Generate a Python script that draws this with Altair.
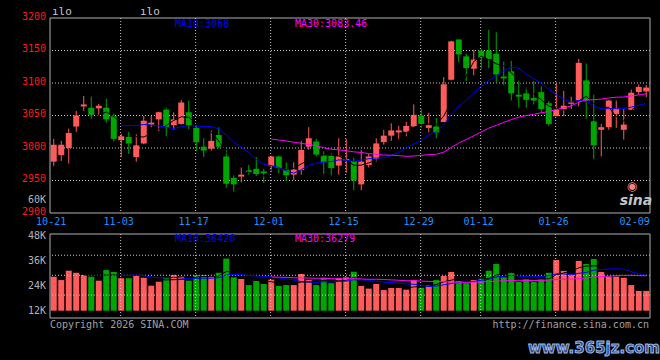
import altair as alt
import pandas as pd

# ---------------- data ----------------
DATES = ["10-21", "10-22", "10-23", "10-24", "10-27", "10-28", "10-29", "10-30", "10-31",
         "11-03", "11-04", "11-05", "11-06", "11-07", "11-10", "11-11", "11-12", "11-13", "11-14",
         "11-17", "11-18", "11-19", "11-20", "11-21", "11-24", "11-25", "11-26", "11-27", "11-28",
         "12-01", "12-02", "12-03", "12-04", "12-05", "12-08", "12-09", "12-10", "12-11", "12-12",
         "12-15", "12-16", "12-17", "12-18", "12-19", "12-22", "12-23", "12-24", "12-25", "12-26",
         "12-29", "12-30", "12-31",
         "01-05", "01-06", "01-07", "01-08", "01-09",
         "01-12", "01-13", "01-14", "01-15", "01-16",
         "01-19", "01-20", "01-21", "01-22", "01-23",
         "01-26", "01-27", "01-28", "01-29", "01-30",
         "02-02", "02-03", "02-04", "02-05", "02-06",
         "02-09", "02-10", "02-11"]
OPEN = [2979, 2989, 3000, 3033, 3064, 3062, 3061, 3062, 3049, 3012,
        3017, 2986, 3007, 3036, 3044, 3059, 3035, 3037, 3055, 3031,
        3002, 2999, 3020, 2987, 2954, 2956, 2966, 2968, 2964, 2972,
        2987, 2968, 2959, 2966, 3002, 3010, 2989, 2988, 2973, 2981,
        2980, 2944, 2974, 2983, 3009, 3019, 3024, 3025, 3033, 3050,
        3031, 3033, 3040, 3105, 3167, 3141, 3122, 3150, 3150, 3145,
        3110, 3118, 3082, 3084, 3077, 3086, 3069, 3049, 3059, 3068,
        3073, 3104, 3041, 3028, 3032, 3052, 3028, 3059, 3086, 3087]
HIGH = [3014, 3011, 3030, 3057, 3080, 3079, 3068, 3076, 3053, 3022,
        3025, 3021, 3049, 3049, 3056, 3062, 3055, 3074, 3073, 3035,
        3015, 3027, 3032, 2997, 2958, 2970, 2974, 2986, 2968, 2988,
        2988, 2978, 2978, 3011, 3032, 3014, 2995, 2992, 3015, 3014,
        2985, 2997, 2991, 3015, 3028, 3038, 3034, 3040, 3067, 3060,
        3054, 3046, 3109, 3165, 3167, 3145, 3151, 3152, 3182, 3178,
        3133, 3134, 3104, 3093, 3103, 3095, 3072, 3100, 3088, 3079,
        3137, 3130, 3082, 3037, 3074, 3073, 3060, 3090, 3098, 3097]
LOW = [2972, 2980, 2976, 3025, 3057, 3045, 3050, 3039, 3010, 2986,
       2991, 2979, 3006, 3032, 3026, 3018, 3028, 3036, 3029, 2995,
       2986, 2996, 3000, 2939, 2933, 2947, 2959, 2957, 2946, 2963,
       2961, 2949, 2951, 2959, 2997, 2987, 2960, 2958, 2959, 2962,
       2935, 2935, 2970, 2979, 3005, 3011, 3012, 3018, 3033, 3031,
       3024, 3015, 3040, 3104, 3132, 3103, 3112, 3122, 3123, 3101,
       3097, 3073, 3062, 3062, 3067, 3054, 3034, 3049, 3049, 3059,
       3064, 3045, 2983, 2987, 3028, 3031, 3013, 3057, 3082, 3078]
CLOSE = [3005, 3005, 3023, 3050, 3067, 3051, 3065, 3044, 3014, 3018,
         3007, 3004, 3042, 3039, 3055, 3032, 3044, 3070, 3035, 3009,
         2996, 3011, 3002, 2945, 2944, 2959, 2963, 2960, 2961, 2987,
         2969, 2958, 2967, 2997, 3015, 2990, 2978, 2969, 2987, 2983,
         2950, 2979, 2987, 3007, 3019, 3027, 3027, 3034, 3051, 3037,
         3035, 3024, 3098, 3164, 3144, 3123, 3136, 3139, 3137, 3113,
         3107, 3084, 3079, 3074, 3073, 3060, 3037, 3059, 3065, 3070,
         3131, 3073, 3004, 3032, 3073, 3061, 3036, 3085, 3094, 3093]
VOLUME = [28300, 26700, 31200, 30200, 29100, 28300, 26400, 31500, 30600, 27600,
          27600, 28700, 27800, 24000, 25900, 27600, 29100, 28300, 26400, 29100,
          29100, 28700, 30200, 37000, 28000, 27200, 24300, 26300, 24800, 26900,
          23900, 24300, 24300, 29600, 26700, 24300, 27800, 25200, 27600, 28000,
          30700, 23900, 22600, 24800, 21900, 22900, 23400, 22100, 26700, 23000,
          24300, 26700, 28700, 30600, 26300, 25200, 26700, 27800, 31200, 34400,
          28000, 30600, 25900, 27100, 25900, 27100, 30200, 36300, 31100, 29500,
          35900, 34400, 36800, 30600, 28300, 28300, 27800, 24300, 21500, 21500]

LABEL_DATES = ["10-21", "11-03", "11-17", "12-01", "12-15", "12-29", "01-12", "01-26"]
LAST_LABEL_DATE = "02-09"
GRID_DATES = ["11-03", "11-17", "12-01", "12-15", "12-29", "01-12", "01-26"]
PRICE_DOMAIN = [2900, 3200]
PRICE_TICKS = [2900, 2950, 3000, 3050, 3100, 3150, 3200]
PRICE_TICK_LABELS = ["2900", "2950", "3000", "3050", "3100", "3150", "3200"]
STRAY_TICK = 2919          # where the leftover "60K" label sits
STRAY_TEXT = "60K"
PRICE_GRID = [2950, 3000, 3050, 3100, 3150]
VOL_DOMAIN = [8500, 48800]
VOL_TICKS = [12000, 24000, 36000, 48000]
VOL_TICK_LABELS = ["12K", "24K", "36K", "48K"]
VOL_GRID = [19500, 29000, 38600]
VOL_BASE = 12000
PRICE_MA_TEXT = ["MA10:3068", "MA30:3083.46"]
VOL_MA_TEXT = ["MA10:36420", "MA30:36279"]
TOP_MARKS = ["ılo", "ılo"]
FOOTER = ["Copyright 2026 SINA.COM", "http://finance.sina.com.cn"]
LOGO = ["◉", "sina"]
WATERMARK = "www.365jz.com"

# ---------------- styles ----------------
MONO = "DejaVu Sans Mono"
UP, DOWN = "#ff5b5b", "#00a600"
BLUE, MAGENTA, BLACK = "#0000ff", "#ff00ff", "#000000"
GRID, BORDER = "#c8c8c8", "#b0b0b0"
PRICE_LABEL, DATE_LABEL, GRAY = "#ff1a1a", "#1e90ff", "#b4b4b4"

df = pd.DataFrame({"idx": list(range(len(DATES))), "date": DATES, "open": OPEN, "high": HIGH,
                   "low": LOW, "close": CLOSE, "vol": VOLUME})

XS = alt.Scale(domain=DATES, paddingInner=0.2, paddingOuter=0.1)
PS = alt.Scale(domain=PRICE_DOMAIN, range=[195, 0], nice=False, zero=False)
VS = alt.Scale(domain=VOL_DOMAIN, range=[300, 216], nice=False, zero=False)


def X(**kw):
    return alt.X("date:N", scale=XS, axis=None, **kw)


color = alt.Color("dir:N", scale=alt.Scale(domain=["up", "down"], range=[UP, DOWN]), legend=None)
base = alt.Chart(df).transform_calculate(dir="datum.close >= datum.open ? 'up' : 'down'")
one = alt.Data(values=[{}])
dotted = dict(color=GRID, strokeDash=[1, 2], strokeWidth=1)

# ---------------- price panel ----------------
p_hgrid = alt.Chart(pd.DataFrame({"v": PRICE_GRID})).mark_rule(**dotted).encode(
    y=alt.Y("v:Q", scale=PS, axis=None))
p_vgrid = alt.Chart(pd.DataFrame({"date": GRID_DATES})).mark_rule(**dotted).encode(
    x=X(bandPosition=0.4),
    y=alt.Y(datum=PRICE_DOMAIN[1], type="quantitative", scale=PS, axis=None),
    y2=alt.Y2(datum=PRICE_DOMAIN[0]))
wicks = base.mark_rule(strokeWidth=1).encode(
    x=X(), y=alt.Y("low:Q", scale=PS, axis=None), y2="high:Q", color=color)
bodies = base.mark_bar().encode(
    x=X(), y=alt.Y("open:Q", scale=PS, axis=None), y2="close:Q", color=color)


def ma_line(field, n, col, scale):
    return (alt.Chart(df)
            .transform_window(m=f"mean({field})", c="count()", frame=[-(n - 1), 0],
                              sort=[alt.SortField("idx")])
            .transform_filter(f"datum.c >= {n}")
            .mark_line(color=col, strokeWidth=1)
            .encode(x=X(), y=alt.Y("m:Q", scale=scale, axis=None)))


p_border = alt.Chart(one).mark_rect(fillOpacity=0, stroke=BORDER, strokeWidth=1).encode(
    y=alt.Y(datum=PRICE_DOMAIN[1], type="quantitative", scale=PS, axis=None),
    y2=alt.Y2(datum=PRICE_DOMAIN[0]))

# price axis labels (placed through the price scale)
p_labels = alt.Chart(pd.DataFrame({"v": PRICE_TICKS, "t": PRICE_TICK_LABELS})).mark_text(
    align="right", baseline="middle", font=MONO, fontSize=10, color=PRICE_LABEL, dx=-4, dy=-1.5
).encode(x=alt.value(0), y=alt.Y("v:Q", scale=PS, axis=None), text="t:N")
p_stray = alt.Chart(alt.Data(values=[{"v": STRAY_TICK, "t": STRAY_TEXT}])).mark_text(
    align="right", baseline="middle", font=MONO, fontSize=10, color=GRAY, dx=-4, dy=-1
).encode(x=alt.value(0), y=alt.Y("v:Q", scale=PS, axis=None), text="t:N")
# date labels (placed through the date scale, just under the price panel)
d_labels = alt.Chart(pd.DataFrame({"date": LABEL_DATES})).mark_text(
    align="center", baseline="middle", font=MONO, fontSize=10, color=DATE_LABEL, dy=8.5, dx=-2
).encode(x=X(bandPosition=0.4),
         y=alt.Y(datum=PRICE_DOMAIN[0], type="quantitative", scale=PS, axis=None),
         text="date:N")
d_last = alt.Chart(pd.DataFrame({"date": [LAST_LABEL_DATE]})).mark_text(
    align="center", baseline="middle", font=MONO, fontSize=10, color=DATE_LABEL, dy=8.5, dx=4
).encode(x=X(bandPosition=0.4),
         y=alt.Y(datum=PRICE_DOMAIN[0], type="quantitative", scale=PS, axis=None),
         text="date:N")

price = alt.layer(p_hgrid, p_vgrid, wicks, bodies,
                  ma_line("close", 5, BLACK, PS), ma_line("close", 10, BLUE, PS),
                  ma_line("close", 30, MAGENTA, PS), p_border,
                  p_labels, p_stray, d_labels, d_last)

# ---------------- volume panel ----------------
v_bars = base.mark_bar().encode(
    x=X(), y=alt.Y("vol:Q", scale=VS, axis=None), y2=alt.Y2(datum=VOL_BASE), color=color)
v_hgrid = alt.Chart(pd.DataFrame({"v": VOL_GRID})).mark_rule(**dotted).encode(
    y=alt.Y("v:Q", scale=VS, axis=None))
v_vgrid = alt.Chart(pd.DataFrame({"date": GRID_DATES})).mark_rule(**dotted).encode(
    x=X(bandPosition=0.4),
    y=alt.Y(datum=VOL_DOMAIN[1], type="quantitative", scale=VS, axis=None),
    y2=alt.Y2(datum=VOL_DOMAIN[0]))
v_border = alt.Chart(one).mark_rect(fillOpacity=0, stroke=BORDER, strokeWidth=1).encode(
    y=alt.Y(datum=VOL_DOMAIN[1], type="quantitative", scale=VS, axis=None),
    y2=alt.Y2(datum=VOL_DOMAIN[0]))
v_labels = alt.Chart(pd.DataFrame({"v": VOL_TICKS, "t": VOL_TICK_LABELS})).mark_text(
    align="right", baseline="middle", font=MONO, fontSize=10, color=GRAY, dx=-4
).encode(x=alt.value(0), y=alt.Y("v:Q", scale=VS, axis=None), text="t:N")

volume = alt.layer(v_bars, v_hgrid, v_vgrid,
                   ma_line("vol", 5, BLACK, VS), ma_line("vol", 10, BLUE, VS),
                   ma_line("vol", 30, MAGENTA, VS), v_border, v_labels)


# ---------------- text annotations ----------------
def label(text, x, y, col, align="left", size=10, font=MONO, baseline="alphabetic", **kw):
    return alt.Chart(alt.Data(values=[{"t": text}])).mark_text(
        align=align, baseline=baseline, color=col, font=font, fontSize=size, **kw
    ).encode(x=alt.value(x), y=alt.value(y), text="t:N")


texts = [
    label(TOP_MARKS[0], 2, -3, "#c8c8c8", size=11),
    label(TOP_MARKS[1], 90, -3, "#c8c8c8", size=11),
    label(PRICE_MA_TEXT[0], 125, 8.5, BLUE),
    label(PRICE_MA_TEXT[1], 245, 8.5, MAGENTA),
    label(VOL_MA_TEXT[0], 125, 223.5, BLUE),
    label(VOL_MA_TEXT[1], 245, 223.5, MAGENTA),
    label(FOOTER[0], 0, 310, "#a0a0a0"),
    label(FOOTER[1], 599, 310, "#a0a0a0", align="right"),
    label(LOGO[0], 582, 168, "#f08a8a", align="center", size=12, font="DejaVu Sans",
          baseline="middle"),
    label(LOGO[1], 586, 187, "#c4c4c4", align="center", size=14, font="DejaVu Sans",
          fontStyle="italic", fontWeight="bold"),
    label(WATERMARK, 544, 335, "#27477f", align="center", size=15, font="DejaVu Sans",
          fontWeight="bold", stroke="#9ab8e8", strokeWidth=1),
]

chart = (alt.layer(price, volume, *texts)
         .resolve_scale(y="independent")
         .properties(width=600, height=300,
                     autosize=alt.AutoSizeParams(type="none"),
                     padding={"left": 50, "top": 18, "right": 10, "bottom": 42},
                     background="#000000")
         .configure_view(strokeWidth=0))

chart.save("out.html", embed_options={"renderer": "svg", "actions": False})
